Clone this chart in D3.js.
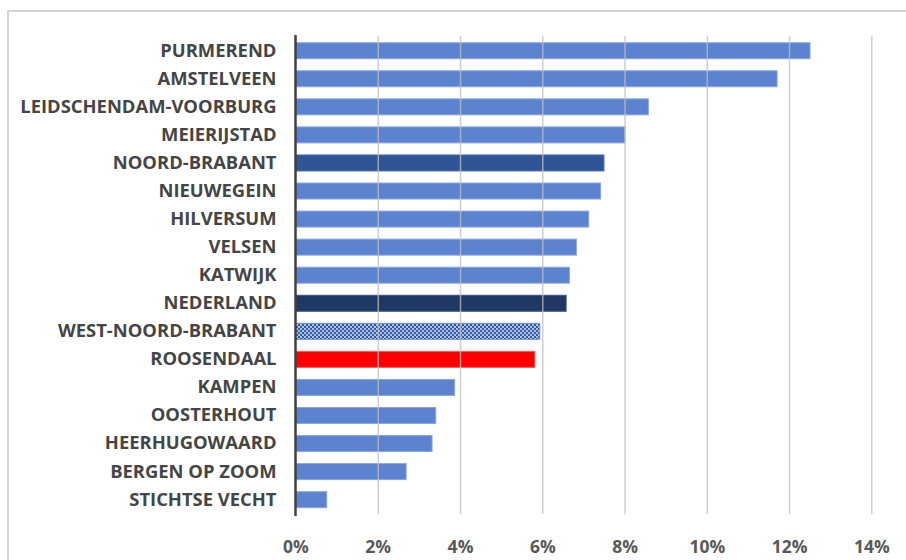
<!DOCTYPE html>
<html>
<head>
<meta charset="utf-8">
<script src="https://cdn.jsdelivr.net/npm/d3@7"></script>
<style>
  html, body { margin: 0; padding: 0; background: #fff; }
  svg { display: block; }
</style>
</head>
<body>
<svg id="chart" width="906" height="560"></svg>
<script>
const categories = [
  "PURMEREND", "AMSTELVEEN", "LEIDSCHENDAM-VOORBURG", "MEIERIJSTAD",
  "NOORD-BRABANT", "NIEUWEGEIN", "HILVERSUM", "VELSEN", "KATWIJK",
  "NEDERLAND", "WEST-NOORD-BRABANT", "ROOSENDAAL", "KAMPEN",
  "OOSTERHOUT", "HEERHUGOWAARD", "BERGEN OP ZOOM", "STICHTSE VECHT"
];
const values = [
  12.51, 11.71, 8.58, 8.01, 7.50, 7.42, 7.13, 6.83, 6.66,
  6.58, 5.94, 5.82, 3.87, 3.41, 3.32, 2.69, 0.76
];
const highlightKinds = {
  "NOORD-BRABANT": "province",
  "NEDERLAND": "country",
  "WEST-NOORD-BRABANT": "region",
  "ROOSENDAAL": "focus"
};
const tickValues = [0, 2, 4, 6, 8, 10, 12, 14];

const data = categories.map((c, i) => ({ name: c, value: values[i] }));

const svg = d3.select("#chart");
const defs = svg.append("defs");
const pat = defs.append("pattern")
  .attr("id", "dots").attr("width", 4).attr("height", 4)
  .attr("patternUnits", "userSpaceOnUse");
pat.append("rect").attr("width", 4).attr("height", 4).attr("fill", "#2f5aa6");
pat.append("circle").attr("cx", 1).attr("cy", 1).attr("r", 0.95).attr("fill", "#e8eefa");
pat.append("circle").attr("cx", 3).attr("cy", 3).attr("r", 0.95).attr("fill", "#e8eefa");

// outer frame
svg.append("rect")
  .attr("x", 8).attr("y", 11).attr("width", 920).attr("height", 580)
  .attr("fill", "none").attr("stroke", "#d4d4d4").attr("stroke-width", 2);

const x = d3.scaleLinear().domain([0, 14]).range([295.5, 871.3]);
const y = d3.scaleBand().domain(categories).range([36.7, 513.7])
  .paddingInner(0.43).paddingOuter(0.215);

const fillFor = d => {
  const k = highlightKinds[d.name];
  if (k === "province") return "#2f5597";
  if (k === "country") return "#1f3864";
  if (k === "region") return "url(#dots)";
  if (k === "focus") return "#ff0000";
  return "#5b83d0";
};
const strokeFor = d => {
  const k = highlightKinds[d.name];
  if (k === "focus") return "#ff5a5a";
  if (k === "country") return "#3a5282";
  if (k === "province") return "#4a6aa8";
  if (k === "region") return "#6e8fd0";
  return "#8aa6e0";
};

// bars
svg.append("g").selectAll("rect").data(data).join("rect")
  .attr("x", x(0))
  .attr("y", d => y(d.name))
  .attr("width", d => x(d.value) - x(0))
  .attr("height", y.bandwidth())
  .attr("fill", fillFor)
  .attr("stroke", strokeFor)
  .attr("stroke-width", 1);

// gridlines (drawn over bars, light)
const grid = svg.append("g")
  .attr("transform", `translate(0,${514})`)
  .call(d3.axisBottom(x).tickValues(tickValues.slice(1)).tickSize(-478).tickFormat(""));
grid.select(".domain").remove();
grid.selectAll("line").attr("stroke", "#bfbfbf").attr("stroke-width", 1.5).attr("stroke-opacity", 0.75);

// tick labels
const xAxis = svg.append("g")
  .attr("transform", `translate(0,${514})`)
  .call(d3.axisBottom(x).tickValues(tickValues).tickSize(0).tickPadding(27).tickFormat(d => d + "%"));
xAxis.select(".domain").remove();
xAxis.selectAll("text")
  .attr("fill", "#595959")
  .style("font-family", "'Open Sans', Lato, sans-serif")
  .style("font-weight", "bold")
  .style("font-size", "17.5px");

// zero axis line
svg.append("line")
  .attr("x1", x(0)).attr("x2", x(0))
  .attr("y1", 35).attr("y2", 516)
  .attr("stroke", "#404040").attr("stroke-width", 2.5);

// category labels
const yAxis = svg.append("g")
  .attr("transform", `translate(${x(0)},0)`)
  .call(d3.axisLeft(y).tickSize(0).tickPadding(19));
yAxis.select(".domain").remove();
yAxis.selectAll("text")
  .attr("fill", "#454545")
  .style("font-family", "'Open Sans', Lato, sans-serif")
  .style("font-weight", "bold")
  .style("font-size", "18.4px");
</script>
</body>
</html>
